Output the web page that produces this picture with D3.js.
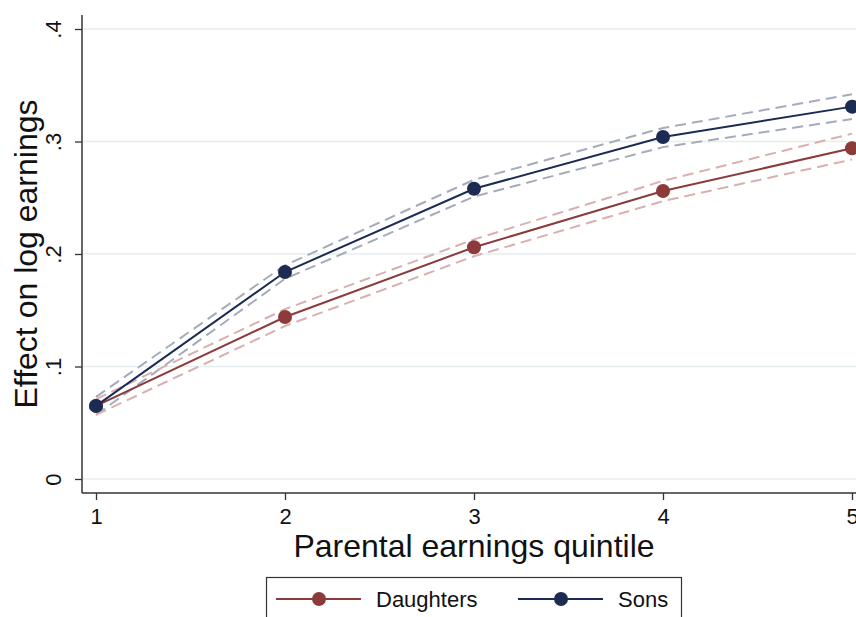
<!DOCTYPE html>
<html><head><meta charset="utf-8">
<script src="https://cdn.jsdelivr.net/npm/d3@7"></script>
<style>body{margin:0;background:#fff}svg{display:block;font-family:"Liberation Sans",Arial,Helvetica,sans-serif}</style>
</head><body><svg id="c" width="856" height="617"></svg>
<script>
const quintiles = [1, 2, 3, 4, 5];
const sons = [0.065, 0.184, 0.258, 0.304, 0.331];
const sonsUpper = [0.073, 0.190, 0.266, 0.312, 0.342];
const sonsLower = [0.057, 0.178, 0.251, 0.295, 0.320];
const daughters = [0.065, 0.144, 0.206, 0.256, 0.294];
const daughtersUpper = [0.071, 0.151, 0.213, 0.265, 0.307];
const daughtersLower = [0.057, 0.136, 0.198, 0.247, 0.284];
const yTicks = [0, 0.1, 0.2, 0.3, 0.4];
const yTickLabels = ["0", ".1", ".2", ".3", ".4"];

const svg = d3.select("#c");
const x = d3.scaleLinear().domain([1, 5]).range([96, 852]);
const y = d3.scaleLinear().domain([0, 0.4]).range([479, 29]);

// gridlines
svg.append("g").selectAll("line").data(yTicks).join("line")
  .attr("x1", 83).attr("x2", 856).attr("y1", d => y(d)).attr("y2", d => y(d))
  .attr("stroke", "#e6eef0").attr("stroke-width", 1.3);

// y axis
const ya = svg.append("g").attr("transform", "translate(82,0)")
  .call(d3.axisLeft(y).tickValues(yTicks).tickFormat((d, i) => yTickLabels[i]).tickSize(7).tickSizeOuter(0));
ya.select(".domain").attr("d", "M0,15V493").attr("stroke", "#333").attr("stroke-width", 1.5);
ya.selectAll(".tick line").attr("stroke", "#333").attr("stroke-width", 1.3);
ya.selectAll(".tick text").attr("font-size", 22).attr("fill", "#111")
  .attr("transform", "rotate(-90)").attr("x", 0).attr("y", -21).attr("dy", "0")
  .attr("text-anchor", "middle");

// x axis
const xa = svg.append("g").attr("transform", "translate(0,493)")
  .call(d3.axisBottom(x).tickValues(quintiles).tickFormat(d3.format("d")).tickSize(7).tickSizeOuter(0));
xa.select(".domain").attr("d", "M82,0H856").attr("stroke", "#333").attr("stroke-width", 1.5);
xa.selectAll(".tick line").attr("stroke", "#333").attr("stroke-width", 1.3);
xa.selectAll(".tick text").attr("font-size", 22).attr("fill", "#111").attr("y", 15);

// titles
svg.append("text").attr("x", 474).attr("y", 557).attr("text-anchor", "middle")
  .attr("font-size", 32).attr("fill", "#111").text("Parental earnings quintile");
svg.append("text").attr("transform", "translate(37,254) rotate(-90)").attr("text-anchor", "middle")
  .attr("font-size", 32).attr("fill", "#111").text("Effect on log earnings");

const line = d3.line().x((d, i) => x(quintiles[i])).y(d => y(d));
const navy = "#1c2b54", red = "#8c3a3a";
const dashes = [
  [sonsUpper, "#a5abbb"], [sonsLower, "#a5abbb"],
  [daughtersUpper, "#d9b0b0"], [daughtersLower, "#d9b0b0"]
];
svg.append("g").selectAll("path").data(dashes).join("path")
  .attr("d", d => line(d[0])).attr("fill", "none").attr("stroke", d => d[1])
  .attr("stroke-width", 2).attr("stroke-dasharray", "11,6");

[[daughters, red], [sons, navy]].forEach(([vals, col]) => {
  svg.append("path").attr("d", line(vals)).attr("fill", "none").attr("stroke", col).attr("stroke-width", 2);
  svg.append("g").selectAll("circle").data(vals).join("circle")
    .attr("cx", (d, i) => x(quintiles[i])).attr("cy", d => y(d)).attr("r", 7).attr("fill", col);
});

// legend
svg.append("rect").attr("x", 266.5).attr("y", 577.5).attr("width", 415).attr("height", 50)
  .attr("fill", "#fff").attr("stroke", "#333").attr("stroke-width", 1.2);
const legendItems = [["Daughters", red, 276], ["Sons", navy, 518]];
legendItems.forEach(([lab, col, lx]) => {
  svg.append("line").attr("x1", lx).attr("x2", lx + 85).attr("y1", 599).attr("y2", 599).attr("stroke", col).attr("stroke-width", 2);
  svg.append("circle").attr("cx", lx + 43).attr("cy", 599).attr("r", 7).attr("fill", col);
  svg.append("text").attr("x", lx + 100).attr("y", 607).attr("font-size", 22).attr("fill", "#111").text(lab);
});
</script></body></html>
